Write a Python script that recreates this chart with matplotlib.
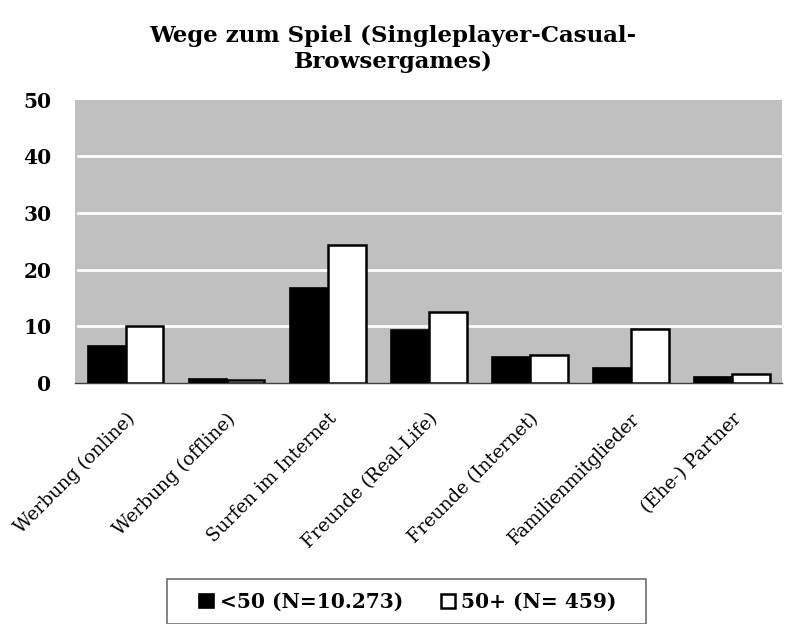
import matplotlib
matplotlib.use("Agg")
import matplotlib.pyplot as plt
from matplotlib.patches import Rectangle
import numpy as np

categories = ["Werbung (online)", "Werbung (offline)", "Surfen im Internet",
              "Freunde (Real-Life)", "Freunde (Internet)", "Familienmitglieder",
              "(Ehe-) Partner"]
under50 = [6.6, 0.8, 16.8, 9.3, 4.6, 2.6, 1.1]
over50 = [10.0, 0.5, 24.3, 12.5, 5.0, 9.5, 1.6]
series_labels = ["<50 (N=10.273)", "50+ (N= 459)"]
yticks = [0, 10, 20, 30, 40, 50]

plt.rcParams['font.family'] = ['DejaVu Serif']

fig = plt.figure(figsize=(7.86, 6.24), dpi=100)
ax = fig.add_axes([0.0954, 0.386, 0.9, 0.454])
ax.set_facecolor('#C0C0C0')

x = np.arange(len(categories))
w = 0.375
ax.bar(x - w/2, under50, w, color='black', edgecolor='black', linewidth=1.2,
       label=series_labels[0], zorder=3)
ax.bar(x + w/2, over50, w, color='white', edgecolor='black', linewidth=1.8,
       label=series_labels[1], zorder=3)

ax.set_xlim(-0.5, len(categories) - 0.5)
ax.set_ylim(0, 50)
ax.set_yticks(yticks)
ax.set_yticklabels([str(t) for t in yticks], fontsize=14.5, fontweight='bold')
for t in yticks[1:-1]:
    ax.axhline(t, xmin=0.004, xmax=1, color='white', linewidth=2, zorder=1)

ax.set_xticks(x)
ax.set_xticklabels(categories, rotation=45, ha='right', rotation_mode='anchor',
                   fontsize=13.3)
ax.tick_params(axis='both', length=0)
ax.tick_params(axis='y', pad=17)
ax.tick_params(axis='x', pad=19)
for s in ['left', 'right', 'top']:
    ax.spines[s].set_visible(False)
ax.spines['bottom'].set_color('#404040')
ax.spines['bottom'].set_linewidth(1)

fig.text(0.5, 0.921, "Wege zum Spiel (Singleplayer-Casual-\nBrowsergames)",
         ha='center', va='center', fontsize=16.5, fontweight='bold', linespacing=1.22)

leg = fig.legend(loc='center', bbox_to_anchor=(408/786, 1 - 602/624), ncol=2,
                 prop={'weight': 'bold', 'size': 14.5}, frameon=False,
                 handlelength=0.7, handleheight=0.7, handletextpad=0.3,
                 columnspacing=1.9, borderpad=0.5, borderaxespad=0)

W, H = 786.0, 624.0
fig.patches.append(Rectangle((167 / W, 1 - 623.5 / H), (646 - 167) / W, (623.5 - 579) / H,
                             transform=fig.transFigure, fill=False,
                             edgecolor='#707070', linewidth=1.2))

fig.savefig("out.png", dpi=100)
